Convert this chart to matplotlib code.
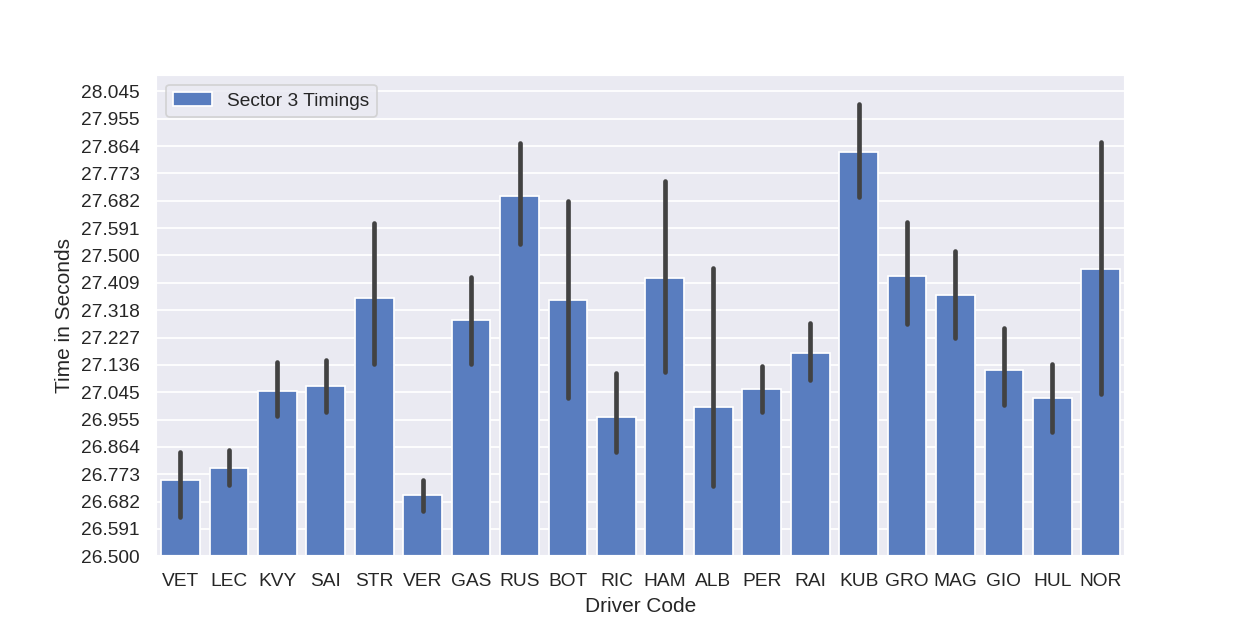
import numpy as np
import matplotlib
matplotlib.use("Agg")
import matplotlib.pyplot as plt
import seaborn as sns
from matplotlib.ticker import FormatStrFormatter

drivers = ['VET', 'LEC', 'KVY', 'SAI', 'STR', 'VER', 'GAS', 'RUS', 'BOT', 'RIC',
           'HAM', 'ALB', 'PER', 'RAI', 'KUB', 'GRO', 'MAG', 'GIO', 'HUL', 'NOR']
# mean sector 3 time per driver
mean_times = [26.752, 26.795, 27.049, 27.067, 27.358, 26.702, 27.287, 27.699, 27.353, 26.963,
              27.426, 26.996, 27.056, 27.176, 27.845, 27.432, 27.368, 27.120, 27.027, 27.455]
# confidence interval bounds
ci_low = [26.629, 26.737, 26.965, 26.979, 27.138, 26.649, 27.138, 27.538, 27.027, 26.846,
          27.111, 26.733, 26.979, 27.085, 27.693, 27.273, 27.224, 27.003, 26.912, 27.038]
ci_high = [26.846, 26.852, 27.146, 27.154, 27.608, 26.752, 27.428, 27.875, 27.681, 27.109,
           27.747, 27.458, 27.131, 27.275, 28.004, 27.611, 27.515, 27.259, 27.140, 27.878]

sns.set_theme(style="darkgrid")
plt.rcParams['font.family'] = ['Liberation Sans', 'DejaVu Sans']

fig, ax = plt.subplots(figsize=(10, 5), dpi=125)

bar_color = sns.desaturate(sns.color_palette("muted")[0], 0.75)
x = np.arange(len(drivers))
ax.bar(x, mean_times, width=0.8, color=bar_color, edgecolor='white',
       linewidth=1.0, label='Sector 3 Timings', zorder=2)
ax.vlines(x, ci_low, ci_high, color='.26', linewidth=2.7, capstyle='round', zorder=3)

ax.set_xticks(x)
ax.set_xticklabels(drivers)
ax.set_xlim(-0.5, len(drivers) - 0.5)
ax.xaxis.grid(False)

ax.set_ylim(26.5, 28.1)
ax.set_yticks(np.arange(26.5, 28.09, 1 / 11))
ax.yaxis.set_major_formatter(FormatStrFormatter('%.3f'))

ax.set_xlabel('Driver Code')
ax.set_ylabel('Time in Seconds')
ax.legend(loc='upper left')

plt.savefig('out.png')
